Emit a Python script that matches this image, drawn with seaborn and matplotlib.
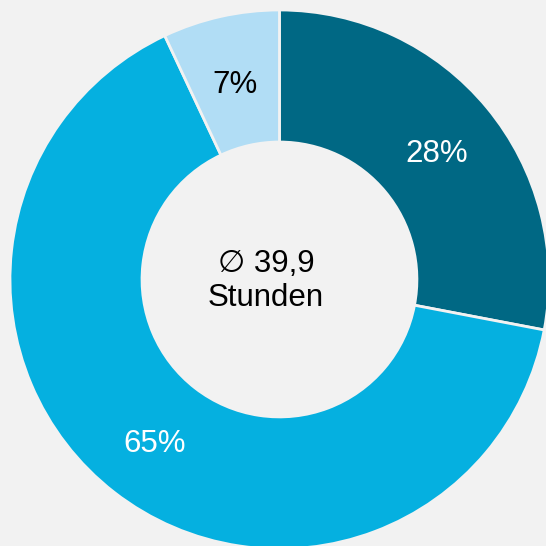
import matplotlib
matplotlib.use("Agg")
import matplotlib.pyplot as plt
import seaborn as sns

# Anteile (Uhrzeigersinn ab 12 Uhr)
labels = ["28%", "65%", "7%"]
shares = [28, 65, 7]
colors = ["#006884", "#05b0e0", "#b1ddf5"]
center_text = "∅ 39,9\nStunden"

sns.set_style("white")
plt.rcParams["font.family"] = ["Liberation Sans", "DejaVu Sans"]

bg = "#f2f2f2"
fig = plt.figure(figsize=(5.46, 5.46), dpi=100, facecolor=bg)
ax = fig.add_axes([0, 0, 1, 1])
ax.set_facecolor(bg)

wedges, texts, autotexts = ax.pie(
    shares, colors=colors, startangle=90, counterclock=False,
    radius=1.0, autopct=lambda p: f"{p:.0f}%", pctdistance=0.755,
    wedgeprops=dict(width=0.49, edgecolor=bg, linewidth=2.0),
    textprops=dict(fontsize=22.5),
)
for t, c in zip(autotexts, ["white", "white", "black"]):
    t.set_color(c)
    x, y = t.get_position()
    t.set_position((x, y - 0.015))

ax.text(-0.05, -0.005, center_text, ha="center", va="center",
        fontsize=22.5, linespacing=1.18, color="black")

ax.set_xlim(-1.037, 0.989)
ax.set_ylim(-0.989, 1.037)
ax.set_aspect("equal")
ax.axis("off")

fig.savefig("out.png", dpi=100, facecolor=bg)
